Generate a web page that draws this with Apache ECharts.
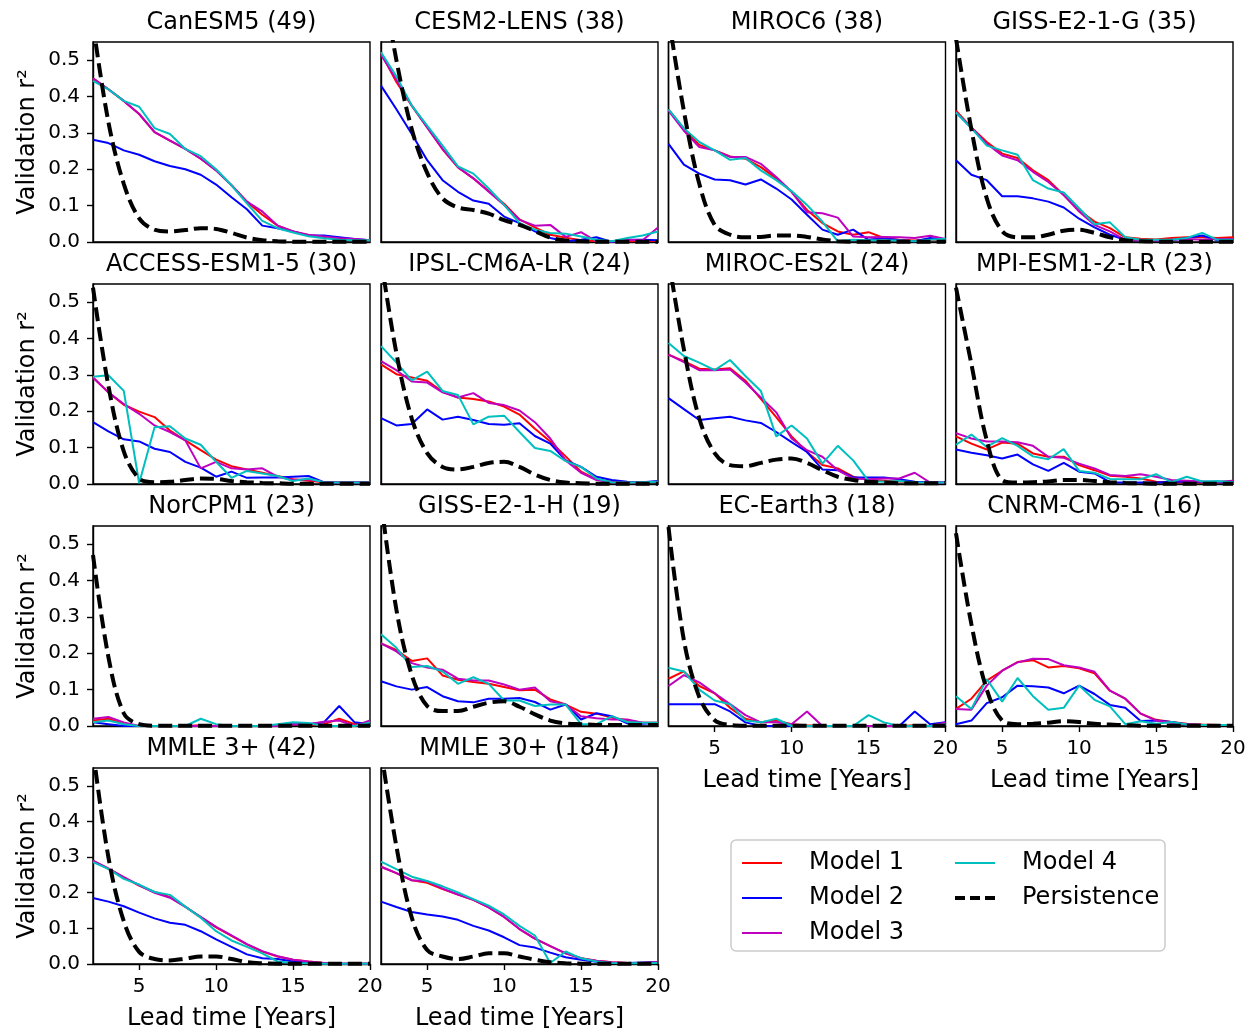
<!DOCTYPE html>
<html><head><meta charset="utf-8">
<script src="https://cdn.jsdelivr.net/npm/echarts@6/dist/echarts.min.js"></script>
<style>html,body{margin:0;padding:0;background:#fff}#c{width:1255px;height:1032px}</style>
</head><body><div id="c"></div>
<script>
// ---------------- DATA ----------------
const leadYears = [2,3,4,5,6,7,8,9,10,11,12,13,14,15,16,17,18,19,20];
const panelTitles = ['CanESM5 (49)','CESM2-LENS (38)','MIROC6 (38)','GISS-E2-1-G (35)',
  'ACCESS-ESM1-5 (30)','IPSL-CM6A-LR (24)','MIROC-ES2L (24)','MPI-ESM1-2-LR (23)',
  'NorCPM1 (23)','GISS-E2-1-H (19)','EC-Earth3 (18)','CNRM-CM6-1 (16)',
  'MMLE 3+ (42)','MMLE 30+ (184)'];
const seriesNames = ['Model 1','Model 2','Model 3','Model 4','Persistence'];
const yTicks = [0,0.1,0.2,0.3,0.4,0.5];
const xTicks = [5,10,15,20];

const model1 = [
 [0.45,0.42,0.388,0.352,0.302,0.279,0.256,0.229,0.197,0.156,0.111,0.075,0.045,0.029,0.018,0.013,0.008,0.006,0.005],
 [0.52,0.44,0.375,0.315,0.255,0.205,0.175,0.14,0.105,0.062,0.04,0.02,0.012,0.005,0.002,0.0,0.002,0.003,0.003],
 [0.365,0.311,0.267,0.252,0.235,0.229,0.206,0.175,0.138,0.088,0.052,0.029,0.02,0.027,0.011,0.006,0.004,0.006,0.006],
 [0.361,0.315,0.275,0.243,0.231,0.197,0.17,0.129,0.088,0.056,0.038,0.013,0.009,0.007,0.011,0.013,0.013,0.011,0.013],
 [0.293,0.252,0.218,0.199,0.184,0.147,0.12,0.093,0.067,0.049,0.04,0.031,0.022,0.013,0.009,0.005,0.005,0.005,0.004],
 [0.329,0.302,0.293,0.284,0.254,0.238,0.234,0.227,0.213,0.191,0.152,0.117,0.076,0.034,0.013,0.006,0.005,0.005,0.006],
 [0.356,0.338,0.317,0.315,0.318,0.284,0.234,0.184,0.131,0.088,0.052,0.043,0.02,0.011,0.009,0.007,0.005,0.004,0.004],
 [0.131,0.111,0.095,0.114,0.111,0.084,0.075,0.075,0.052,0.038,0.023,0.02,0.015,0.006,0.005,0.004,0.004,0.004,0.006],
 [0.015,0.02,0.005,0.0,0.0,0.0,0.0,0.002,0.0,0.0,0.0,0.0,0.002,0.005,0.003,0.005,0.02,0.005,0.01],
 [0.227,0.209,0.179,0.186,0.139,0.127,0.121,0.116,0.107,0.098,0.1,0.073,0.059,0.039,0.034,0.023,0.016,0.009,0.009],
 [0.13,0.15,0.11,0.09,0.05,0.02,0.01,0.015,0.005,0.002,0.0,0.0,0.0,0.0,0.0,0.0,0.002,0.0,0.005],
 [0.047,0.075,0.125,0.152,0.176,0.181,0.161,0.165,0.159,0.145,0.097,0.075,0.034,0.017,0.011,0.006,0.004,0.003,0.003],
 [0.289,0.267,0.243,0.22,0.202,0.188,0.161,0.131,0.103,0.079,0.055,0.035,0.021,0.012,0.007,0.003,0.001,0.001,0.001],
 [0.273,0.255,0.235,0.228,0.21,0.195,0.18,0.159,0.132,0.098,0.071,0.05,0.03,0.016,0.009,0.005,0.003,0.003,0.005]
];
const model2 = [
 [0.281,0.272,0.252,0.24,0.222,0.209,0.2,0.185,0.158,0.123,0.09,0.045,0.038,0.029,0.018,0.018,0.013,0.008,0.005],
 [0.43,0.365,0.297,0.225,0.17,0.138,0.114,0.105,0.07,0.052,0.029,0.011,0.002,0.006,0.013,0.0,0.006,0.006,0.005],
 [0.27,0.213,0.188,0.172,0.17,0.158,0.172,0.147,0.117,0.075,0.034,0.02,0.034,0.006,0.011,0.005,0.002,0.011,0.007],
 [0.225,0.185,0.17,0.126,0.126,0.12,0.111,0.095,0.064,0.04,0.02,0.006,0.005,0.005,0.005,0.011,0.018,0.005,0.005],
 [0.17,0.145,0.123,0.117,0.097,0.088,0.061,0.045,0.02,0.034,0.017,0.018,0.018,0.02,0.022,0.005,0.004,0.004,0.004],
 [0.181,0.161,0.165,0.205,0.177,0.185,0.176,0.165,0.163,0.167,0.132,0.111,0.065,0.047,0.02,0.011,0.006,0.005,0.008],
 [0.236,0.206,0.176,0.181,0.185,0.175,0.168,0.143,0.115,0.088,0.04,0.038,0.018,0.018,0.018,0.013,0.006,0.005,0.004],
 [0.095,0.086,0.079,0.07,0.081,0.054,0.036,0.058,0.034,0.029,0.005,0.004,0.004,0.004,0.006,0.007,0.006,0.005,0.005],
 [0.01,0.005,0.0,0.0,0.0,0.0,0.0,0.0,0.0,0.0,0.0,0.0,0.0,0.005,0.005,0.01,0.055,0.01,0.005],
 [0.123,0.109,0.1,0.107,0.082,0.068,0.065,0.075,0.075,0.077,0.066,0.045,0.059,0.018,0.035,0.027,0.007,0.006,0.008],
 [0.06,0.06,0.06,0.06,0.04,0.01,0.0,0.0,0.0,0.0,0.0,0.0,0.0,0.0,0.0,0.0,0.04,0.005,0.01],
 [0.005,0.015,0.063,0.079,0.111,0.109,0.106,0.09,0.111,0.088,0.058,0.05,0.014,0.015,0.011,0.004,0.003,0.003,0.003],
 [0.185,0.175,0.162,0.144,0.128,0.116,0.11,0.092,0.069,0.048,0.027,0.016,0.014,0.007,0.003,0.002,0.001,0.001,0.001],
 [0.175,0.16,0.146,0.139,0.133,0.124,0.107,0.094,0.075,0.053,0.046,0.032,0.019,0.012,0.006,0.003,0.003,0.004,0.005]
];
const model3 = [
 [0.45,0.42,0.388,0.352,0.302,0.279,0.256,0.229,0.197,0.156,0.111,0.084,0.045,0.029,0.02,0.015,0.01,0.008,0.005],
 [0.515,0.447,0.375,0.315,0.256,0.206,0.175,0.138,0.102,0.061,0.045,0.047,0.014,0.027,0.002,0.002,0.006,0.005,0.04],
 [0.361,0.306,0.261,0.252,0.234,0.234,0.215,0.179,0.138,0.082,0.079,0.067,0.015,0.013,0.014,0.013,0.011,0.017,0.008],
 [0.356,0.315,0.27,0.238,0.225,0.193,0.165,0.129,0.084,0.047,0.029,0.006,0.005,0.004,0.006,0.008,0.006,0.008,0.008],
 [0.293,0.252,0.22,0.193,0.161,0.143,0.12,0.043,0.061,0.043,0.04,0.043,0.02,0.011,0.013,0.005,0.004,0.004,0.004],
 [0.338,0.313,0.282,0.279,0.252,0.238,0.25,0.223,0.217,0.202,0.17,0.125,0.065,0.031,0.011,0.005,0.004,0.005,0.006],
 [0.356,0.335,0.313,0.313,0.315,0.279,0.238,0.197,0.125,0.093,0.075,0.038,0.015,0.013,0.015,0.015,0.031,0.004,0.004],
 [0.14,0.125,0.117,0.117,0.115,0.105,0.075,0.072,0.056,0.043,0.025,0.022,0.027,0.02,0.011,0.009,0.007,0.006,0.009],
 [0.02,0.025,0.01,0.0,0.0,0.0,0.0,0.0,0.0,0.0,0.0,0.0,0.0,0.005,0.005,0.012,0.015,0.0,0.015],
 [0.227,0.205,0.173,0.161,0.155,0.13,0.125,0.125,0.114,0.1,0.106,0.068,0.059,0.027,0.021,0.018,0.018,0.009,0.009],
 [0.11,0.14,0.12,0.09,0.06,0.03,0.01,0.01,0.005,0.04,0.0,0.0,0.0,0.0,0.0,0.0,0.0,0.0,0.01],
 [0.047,0.045,0.111,0.152,0.175,0.185,0.184,0.167,0.161,0.149,0.097,0.075,0.034,0.015,0.008,0.005,0.003,0.003,0.003],
 [0.29,0.268,0.244,0.221,0.2,0.186,0.16,0.132,0.104,0.08,0.056,0.036,0.022,0.012,0.007,0.003,0.001,0.001,0.001],
 [0.273,0.255,0.235,0.232,0.212,0.195,0.18,0.159,0.132,0.098,0.071,0.05,0.03,0.016,0.009,0.005,0.003,0.003,0.005]
];
const model4 = [
 [0.443,0.42,0.388,0.372,0.313,0.297,0.256,0.236,0.2,0.156,0.106,0.058,0.038,0.026,0.016,0.01,0.006,0.005,0.005],
 [0.522,0.456,0.375,0.32,0.265,0.208,0.188,0.147,0.102,0.052,0.034,0.025,0.023,0.015,0.006,0.002,0.011,0.018,0.029],
 [0.365,0.313,0.275,0.252,0.226,0.231,0.197,0.17,0.14,0.102,0.056,0.002,0.006,0.005,0.005,0.004,0.002,0.006,0.009],
 [0.356,0.313,0.265,0.252,0.24,0.17,0.147,0.136,0.093,0.049,0.054,0.013,0.006,0.006,0.006,0.011,0.025,0.006,0.006],
 [0.295,0.299,0.256,0.002,0.156,0.159,0.125,0.108,0.061,0.017,0.036,0.029,0.022,0.008,0.015,0.005,0.004,0.004,0.004],
 [0.379,0.334,0.285,0.309,0.256,0.245,0.164,0.185,0.188,0.143,0.099,0.091,0.063,0.047,0.015,0.005,0.004,0.005,0.006],
 [0.388,0.352,0.334,0.313,0.341,0.297,0.256,0.131,0.161,0.125,0.056,0.105,0.065,0.008,0.006,0.008,0.005,0.004,0.004],
 [0.108,0.136,0.102,0.126,0.105,0.076,0.068,0.096,0.036,0.031,0.014,0.013,0.013,0.027,0.005,0.02,0.007,0.008,0.005],
 [0.01,0.015,0.005,0.0,0.0,0.0,0.0,0.02,0.005,0.0,0.0,0.0,0.005,0.01,0.008,0.0,0.0,0.0,0.01],
 [0.252,0.215,0.162,0.165,0.15,0.116,0.134,0.116,0.07,0.07,0.055,0.059,0.059,0.005,0.005,0.027,0.011,0.009,0.009],
 [0.16,0.15,0.1,0.07,0.06,0.015,0.01,0.02,0.0,0.0,0.0,0.0,0.0,0.03,0.01,0.0,0.0,0.0,0.005],
 [0.082,0.047,0.129,0.067,0.132,0.082,0.045,0.05,0.111,0.072,0.054,0.005,0.013,0.006,0.011,0.004,0.003,0.003,0.003],
 [0.286,0.267,0.239,0.223,0.202,0.194,0.161,0.13,0.092,0.066,0.048,0.03,0.007,0.003,0.002,0.001,0.001,0.001,0.001],
 [0.287,0.266,0.245,0.233,0.218,0.201,0.182,0.164,0.139,0.107,0.08,0.003,0.035,0.016,0.007,0.003,0.002,0.002,0.003]
];
const persistence = [
 [0.6,0.33,0.16,0.065,0.034,0.029,0.033,0.038,0.036,0.025,0.012,0.005,0.002,0.001,0.001,0.001,0.001,0.001,0.001],
 [0.75,0.5,0.31,0.19,0.12,0.095,0.088,0.078,0.06,0.047,0.03,0.012,0.004,0.002,0.001,0.001,0.001,0.001,0.001],
 [0.62,0.36,0.16,0.047,0.02,0.013,0.014,0.018,0.018,0.014,0.007,0.002,0.001,0.001,0.001,0.001,0.001,0.001,0.001],
 [0.56,0.31,0.12,0.03,0.013,0.013,0.02,0.031,0.034,0.025,0.013,0.005,0.002,0.001,0.001,0.001,0.001,0.001,0.001],
 [0.54,0.27,0.09,0.015,0.005,0.006,0.011,0.015,0.014,0.008,0.005,0.003,0.002,0.001,0.001,0.001,0.001,0.001,0.001],
 [0.62,0.36,0.18,0.085,0.047,0.04,0.047,0.058,0.061,0.047,0.026,0.011,0.004,0.002,0.001,0.001,0.001,0.001,0.001],
 [0.62,0.37,0.18,0.085,0.052,0.049,0.058,0.067,0.07,0.058,0.038,0.02,0.011,0.006,0.004,0.002,0.002,0.002,0.003],
 [0.54,0.33,0.12,0.011,0.004,0.005,0.007,0.011,0.011,0.008,0.005,0.003,0.002,0.001,0.001,0.001,0.001,0.001,0.001],
 [0.47,0.19,0.035,0.005,0.001,0.001,0.001,0.001,0.001,0.001,0.001,0.001,0.001,0.001,0.001,0.001,0.001,0.001,0.001],
 [0.62,0.32,0.14,0.055,0.041,0.041,0.053,0.064,0.068,0.053,0.032,0.015,0.007,0.005,0.003,0.003,0.003,0.003,0.003],
 [0.547,0.236,0.08,0.016,0.003,0.001,0.001,0.001,0.001,0.001,0.001,0.001,0.001,0.001,0.001,0.001,0.001,0.001,0.001],
 [0.53,0.28,0.1,0.015,0.005,0.006,0.009,0.013,0.011,0.006,0.004,0.002,0.001,0.001,0.001,0.001,0.001,0.001,0.001],
 [0.6,0.3,0.12,0.034,0.014,0.01,0.015,0.021,0.021,0.014,0.005,0.002,0.001,0.001,0.001,0.001,0.001,0.001,0.001],
 [0.6,0.33,0.13,0.039,0.021,0.014,0.021,0.03,0.03,0.021,0.012,0.005,0.002,0.001,0.001,0.001,0.001,0.001,0.001]
];

// ---------------- LAYOUT / STYLE ----------------
const FONT = 'DejaVu Sans';
const colLeft = [93, 381, 668.5, 956];
const rowTop = [42, 284, 526, 768];
const W = 277, H = 200;
const colors = ['#ff0000', '#0000ff', '#bf00bf', '#00bfbf', '#000000'];
const allModels = [model1, model2, model3, model4, persistence];
const xLabelPanels = [10, 11, 12, 13];
const DASH = [14, 6];

const grids = [], xAxes = [], yAxes = [], series = [], graphics = [];
panelTitles.forEach((title, i) => {
  const r = Math.floor(i / 4), c = i % 4;
  const hasX = xLabelPanels.includes(i);
  const hasY = c === 0;
  grids.push({left: colLeft[c], top: rowTop[r], width: W, height: H, show: true,
    borderColor: '#000', borderWidth: 1.4, backgroundColor: 'transparent', containLabel: false});
  xAxes.push({gridIndex: i, type: 'value', min: 2, max: 20,
    axisLine: {show: true, onZero: false, lineStyle: {color: '#000', width: 1.4}},
    splitLine: {show: false},
    axisTick: {show: hasX, length: 6, customValues: xTicks, lineStyle: {color: '#000', width: 1.4}},
    axisLabel: {show: hasX, customValues: xTicks, fontSize: 20, color: '#000', margin: 13, fontFamily: FONT},
    name: hasX ? 'Lead time [Years]' : '', nameLocation: 'middle', nameGap: 43,
    nameTextStyle: {fontSize: 24, color: '#000', fontFamily: FONT}});
  yAxes.push({gridIndex: i, type: 'value', min: 0, max: 0.55,
    axisLine: {show: true, onZero: false, lineStyle: {color: '#000', width: 1.4}},
    splitLine: {show: false},
    axisTick: {show: hasY, length: 6, customValues: yTicks, lineStyle: {color: '#000', width: 1.4}},
    axisLabel: {show: hasY, customValues: yTicks, formatter: v => v.toFixed(1), fontSize: 20,
      color: '#000', margin: 13, fontFamily: FONT},
    name: hasY ? 'Validation r²' : '', nameLocation: 'middle', nameGap: 53, nameRotate: 90,
    nameTextStyle: {fontSize: 24, color: '#000', fontFamily: FONT}});
  allModels.forEach((arr, k) => {
    const isP = k === 4;
    series.push({type: 'line', name: seriesNames[k], xAxisIndex: i, yAxisIndex: i,
      data: leadYears.map((x, j) => [x, arr[i][j]]),
      symbol: 'none', showSymbol: false, smooth: isP ? 0.35 : false, clip: true,
      silent: true, animation: false,
      lineStyle: {color: colors[k], width: isP ? 4 : 2, type: isP ? DASH : 'solid'},
      itemStyle: {color: colors[k]},
      emphasis: {disabled: true}});
  });
  graphics.push({type: 'text', x: colLeft[c] + W / 2, y: rowTop[r] - 19,
    style: {text: title, fontSize: 24, fontFamily: FONT, fill: '#000', align: 'center', verticalAlign: 'middle'}});
});
graphics.push({type: 'rect', z: 0, shape: {x: 731, y: 840, width: 434, height: 111, r: 5},
  style: {fill: '#fff', stroke: '#cccccc', lineWidth: 1.5}});

const legendItem = (k) => ({name: seriesNames[k],
  lineStyle: {color: colors[k], width: k === 4 ? 4 : 2, type: k === 4 ? [10, 5] : 'solid'}});
const legendCommon = {orient: 'vertical', itemWidth: 40, itemHeight: 14, itemGap: 11, z: 10,
  itemStyle: {opacity: 0, borderWidth: 0},
  textStyle: {fontSize: 24, color: '#000', fontFamily: FONT, padding: [0, 0, 0, 22]},
  selectedMode: false};

const chart = echarts.init(document.getElementById('c'), null, {renderer: 'canvas'});
chart.setOption({
  animation: false,
  backgroundColor: '#fff',
  textStyle: {fontFamily: FONT},
  grid: grids, xAxis: xAxes, yAxis: yAxes, series: series,
  legend: [
    Object.assign({}, legendCommon, {data: [0, 1, 2].map(legendItem), left: 736, top: 846}),
    Object.assign({}, legendCommon, {data: [3, 4].map(legendItem), left: 948, top: 846})
  ],
  graphic: graphics
});
</script></body></html>
